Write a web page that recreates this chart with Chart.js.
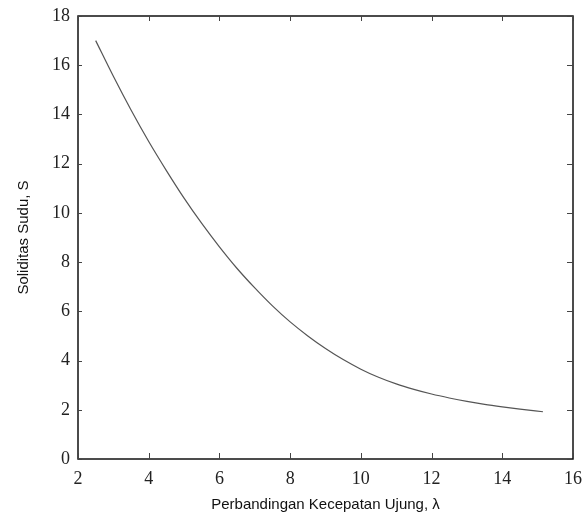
<!DOCTYPE html>
<html>
<head>
<meta charset="utf-8">
<script src="https://cdn.jsdelivr.net/npm/chart.js@4/dist/chart.umd.min.js"></script>
<style>
  html, body { margin: 0; padding: 0; background: #fff; }
  #wrap { width: 588px; height: 517px; }
</style>
</head>
<body>
<div id="wrap"><canvas id="soliditasChart" width="588" height="517"></canvas></div>
<script>
// rasio kecepatan ujung (lambda) dan soliditas sudu (S)
const lambda = [2.5, 3, 3.5, 4, 4.5, 5, 5.5, 6, 6.5, 7, 7.5, 8, 8.5, 9, 9.5, 10, 10.5, 11, 11.5, 12, 12.5, 13, 13.5, 14, 14.5, 15.15];
const soliditas = [17.0, 15.55, 14.18, 12.9, 11.72, 10.6, 9.57, 8.62, 7.74, 6.95, 6.22, 5.57, 5.0, 4.49, 4.04, 3.65, 3.32, 3.05, 2.83, 2.64, 2.48, 2.34, 2.22, 2.12, 2.03, 1.92];

const xTicks = [2, 4, 6, 8, 10, 12, 14, 16];
const yTicks = [0, 2, 4, 6, 8, 10, 12, 14, 16, 18];

// garis tepi dan tick ke dalam
const frame = {
	id: "frame",
	afterDraw(chart) {
		const { ctx, chartArea: a, scales } = chart;
		ctx.save();
		ctx.strokeStyle = "#111";
		ctx.lineWidth = 1.5;
		ctx.strokeRect(a.left, a.top, a.right - a.left, a.bottom - a.top);
		ctx.lineWidth = 1;
		ctx.strokeStyle = "#444";
		xTicks.forEach((v) => {
			const px = Math.round(scales.x.getPixelForValue(v)) + 0.5;
			ctx.beginPath();
			ctx.moveTo(px, a.bottom); ctx.lineTo(px, a.bottom - 6);
			ctx.moveTo(px, a.top); ctx.lineTo(px, a.top + 5);
			ctx.stroke();
		});
		yTicks.forEach((v) => {
			const py = Math.round(scales.y.getPixelForValue(v)) + 0.5;
			ctx.beginPath();
			ctx.moveTo(a.left, py); ctx.lineTo(a.left + 4, py);
			ctx.moveTo(a.right, py); ctx.lineTo(a.right - 6, py);
			ctx.stroke();
		});
		ctx.restore();
	},
};

const chart = new Chart(document.getElementById("soliditasChart").getContext("2d"), {
	type: "scatter",
	data: {
		datasets: [
			{
				label: "Soliditas",
				data: lambda.map((x, i) => ({ x: x, y: soliditas[i] })),
				showLine: true,
				borderColor: "#555",
				borderWidth: 1.2,
				pointRadius: 0,
				cubicInterpolationMode: "monotone",
				fill: false,
			},
		],
	},
	options: {
		responsive: false,
		animation: false,
		layout: { padding: { top: 16, right: 15, left: 15, bottom: 3 } },
		plugins: {
			legend: { display: false },
			tooltip: { enabled: false },
		},
		scales: {
			x: {
				type: "linear",
				min: 2,
				max: 16,
				afterBuildTicks: (s) => { s.ticks = xTicks.map((v) => ({ value: v })); },
				afterFit: (s) => { s.paddingLeft = 0; s.paddingRight = 0; },
				grid: { display: false, drawTicks: false },
				border: { display: false },
				ticks: {
					padding: 11,
					color: "#222",
					font: { family: "Liberation Serif", size: 18, lineHeight: 1 },
				},
				title: {
					display: true,
					text: "Perbandingan Kecepatan Ujung, \u03bb",
					color: "#111",
					font: { family: "Liberation Sans", size: 15 },
					padding: { top: -3, bottom: 0 },
				},
			},
			y: {
				type: "linear",
				min: 0,
				max: 18,
				afterBuildTicks: (s) => { s.ticks = yTicks.map((v) => ({ value: v })); },
				afterFit: (s) => { s.paddingTop = 0; s.paddingBottom = 0; },
				grid: { display: false, drawTicks: false },
				border: { display: false },
				ticks: {
					padding: 8,
					color: "#222",
					font: { family: "Liberation Serif", size: 18 },
				},
				title: {
					display: true,
					text: "Soliditas Sudu, S",
					color: "#111",
					font: { family: "Liberation Sans", size: 15 },
					padding: { top: 0, bottom: 11 },
				},
			},
		},
	},
	plugins: [frame],
});
</script>
</body>
</html>
